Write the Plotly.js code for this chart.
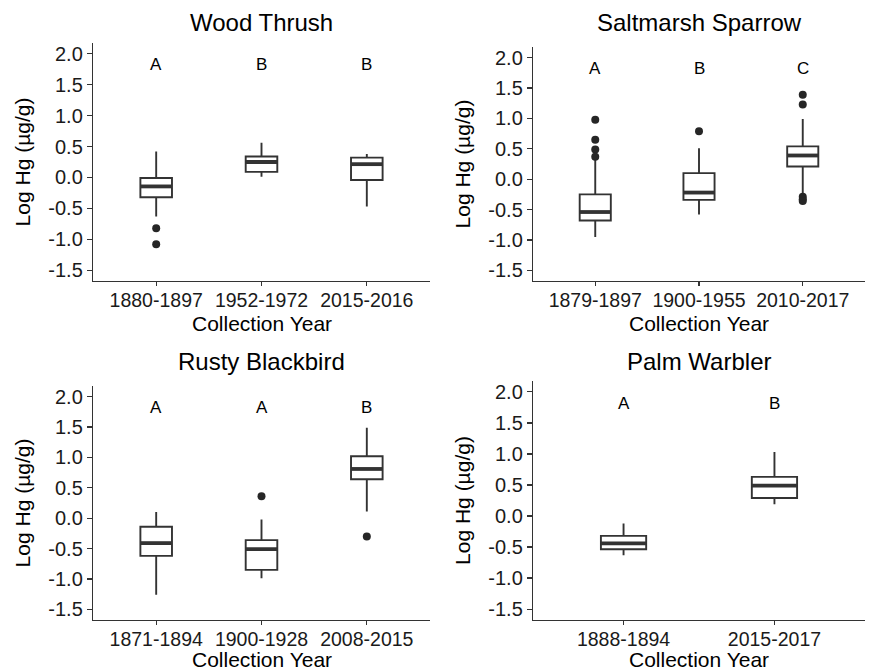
<!DOCTYPE html>
<html>
<head>
<meta charset="utf-8">
<script src="https://cdn.plot.ly/plotly-3.0.1.min.js"></script>
<style>html,body{margin:0;padding:0;background:#fff;}#chart{width:870px;height:672px;}</style>
</head>
<body>
<div id="chart"></div>
<script>
// ---------- Data ----------
// Wood Thrush
const wtCats = ["1880-1897", "1952-1972", "2015-2016"];
const wtLow  = [-0.63, 0.01, -0.47];
const wtQ1   = [-0.32, 0.09, -0.04];
const wtMed  = [-0.145, 0.25, 0.215];
const wtQ3   = [-0.01, 0.34, 0.32];
const wtHigh = [0.42, 0.56, 0.38];
const wtOutX = [0, 0];
const wtOutY = [-0.82, -1.08];
const wtLetters = ["A", "B", "B"];

// Saltmarsh Sparrow
const ssCats = ["1879-1897", "1900-1955", "2010-2017"];
const ssLow  = [-0.95, -0.58, -0.25];
const ssQ1   = [-0.68, -0.34, 0.21];
const ssMed  = [-0.54, -0.22, 0.39];
const ssQ3   = [-0.25, 0.10, 0.54];
const ssHigh = [0.33, 0.51, 0.99];
const ssOutX = [0, 0, 0, 0, 1, 2, 2, 2, 2, 2];
const ssOutY = [0.98, 0.65, 0.49, 0.37, 0.79, 1.39, 1.23, -0.29, -0.33, -0.36];
const ssLetters = ["A", "B", "C"];

// Rusty Blackbird
const rbCats = ["1871-1894", "1900-1928", "2008-2015"];
const rbLow  = [-1.26, -0.99, 0.11];
const rbQ1   = [-0.62, -0.85, 0.64];
const rbMed  = [-0.41, -0.51, 0.81];
const rbQ3   = [-0.14, -0.36, 1.02];
const rbHigh = [0.10, -0.02, 1.49];
const rbOutX = [1, 2];
const rbOutY = [0.36, -0.30];
const rbLetters = ["A", "A", "B"];

// Palm Warbler
const pwCats = ["1888-1894", "2015-2017"];
const pwLow  = [-0.63, 0.19];
const pwQ1   = [-0.535, 0.29];
const pwMed  = [-0.44, 0.49];
const pwQ3   = [-0.32, 0.63];
const pwHigh = [-0.12, 1.03];
const pwOutX = [];
const pwOutY = [];
const pwLetters = ["A", "B"];

const titles = ["Wood Thrush", "Saltmarsh Sparrow", "Rusty Blackbird", "Palm Warbler"];
const xTitle = "Collection Year";
const yTitle = "Log Hg (\u00b5g/g)";
const yTicks = [-1.5, -1.0, -0.5, 0.0, 0.5, 1.0, 1.5, 2.0];
const letterY = 1.82;

// ---------- Build ----------
const panels = [
  {cats: wtCats, low: wtLow, q1: wtQ1, med: wtMed, q3: wtQ3, high: wtHigh, ox: wtOutX, oy: wtOutY, let: wtLetters},
  {cats: ssCats, low: ssLow, q1: ssQ1, med: ssMed, q3: ssQ3, high: ssHigh, ox: ssOutX, oy: ssOutY, let: ssLetters},
  {cats: rbCats, low: rbLow, q1: rbQ1, med: rbMed, q3: rbQ3, high: rbHigh, ox: rbOutX, oy: rbOutY, let: rbLetters},
  {cats: pwCats, low: pwLow, q1: pwQ1, med: pwMed, q3: pwQ3, high: pwHigh, ox: pwOutX, oy: pwOutY, let: pwLetters}
];

const W = 870, H = 672;
// pixel boxes of each plotting area [left, right, top, bottom, titleCenterY, xTitleCenterY]
const areas = [
  [93, 430, 43, 281, 23, 323],
  [533, 865, 47, 281, 23, 323],
  [93, 430, 386, 620, 361, 659],
  [533, 865, 381, 620, 361, 659]
];

const INK = "#333333";
const FONT = "Liberation Sans, Arial, Helvetica, sans-serif";
const boxW = 0.3;

const data = [];
const shapes = [];
const annotations = [];
const layout = {
  width: W, height: H,
  margin: {l: 0, r: 0, t: 0, b: 0},
  paper_bgcolor: "#ffffff",
  plot_bgcolor: "#ffffff",
  showlegend: false,
  font: {family: FONT, color: "#000000"}
};

panels.forEach((p, i) => {
  const n = i + 1;
  const xa = n === 1 ? "x" : "x" + n;
  const ya = n === 1 ? "y" : "y" + n;
  const xKey = n === 1 ? "xaxis" : "xaxis" + n;
  const yKey = n === 1 ? "yaxis" : "yaxis" + n;
  const idx = p.cats.map((_, k) => k);
  const a = areas[i];

  data.push({
    type: "box",
    x: idx,
    q1: p.q1, median: p.med, q3: p.q3,
    lowerfence: p.low, upperfence: p.high,
    width: boxW,
    whiskerwidth: 0,
    boxpoints: false,
    fillcolor: "#ffffff",
    line: {color: INK, width: 1.9},
    xaxis: xa, yaxis: ya,
    hoverinfo: "skip"
  });
  if (p.ox.length) {
    data.push({
      type: "scatter", mode: "markers",
      x: p.ox, y: p.oy,
      marker: {color: "#262626", size: 8},
      xaxis: xa, yaxis: ya,
      hoverinfo: "skip"
    });
  }
  // thick median bars
  p.med.forEach((m, k) => {
    shapes.push({
      type: "line", xref: xa, yref: ya,
      x0: k - boxW / 2, x1: k + boxW / 2, y0: m, y1: m,
      line: {color: INK, width: 3.8}
    });
  });
  // significance letters
  p.let.forEach((L, k) => {
    annotations.push({
      xref: xa, yref: ya, x: k, y: letterY,
      text: L, showarrow: false,
      font: {size: 17, family: FONT, color: "#000"},
      xanchor: "center", yanchor: "middle"
    });
  });
  // panel title
  annotations.push({
    xref: "paper", yref: "paper",
    x: ((a[0] + a[1]) / 2) / W,
    y: 1 - a[4] / H,
    text: titles[i], showarrow: false,
    font: {size: 24, family: FONT, color: "#000"},
    xanchor: "center", yanchor: "middle"
  });
  // x axis title
  annotations.push({
    xref: "paper", yref: "paper",
    x: ((a[0] + a[1]) / 2) / W,
    y: 1 - a[5] / H,
    text: xTitle, showarrow: false,
    font: {size: 21, family: FONT, color: "#000"},
    xanchor: "center", yanchor: "middle"
  });

  layout[xKey] = {
    domain: [a[0] / W, a[1] / W],
    anchor: ya,
    range: [-0.6, p.cats.length - 0.4],
    tickvals: idx, ticktext: p.cats,
    showgrid: false, zeroline: false,
    showline: true, linecolor: INK, linewidth: 1.2,
    ticks: "outside", ticklen: 4, tickcolor: INK, tickwidth: 1.2,
    ticklabelstandoff: -3,
    tickfont: {size: 19.5, family: FONT, color: "#1a1a1a"},
    fixedrange: true
  };
  layout[yKey] = {
    domain: [1 - a[3] / H, 1 - a[2] / H],
    anchor: xa,
    range: [-1.675, 2.175],
    tickvals: yTicks,
    ticktext: yTicks.map(v => v.toFixed(1)),
    showgrid: false, zeroline: false,
    showline: true, linecolor: INK, linewidth: 1.2,
    ticks: "outside", ticklen: 5, tickcolor: INK, tickwidth: 1.2,
    tickfont: {size: 20, family: FONT, color: "#1a1a1a"},
    title: {text: yTitle, font: {size: 21, family: FONT, color: "#000"}, standoff: 12},
    fixedrange: true
  };
});

layout.shapes = shapes;
layout.annotations = annotations;

Plotly.newPlot("chart", data, layout, {displayModeBar: false, staticPlot: true});
</script>
</body>
</html>
